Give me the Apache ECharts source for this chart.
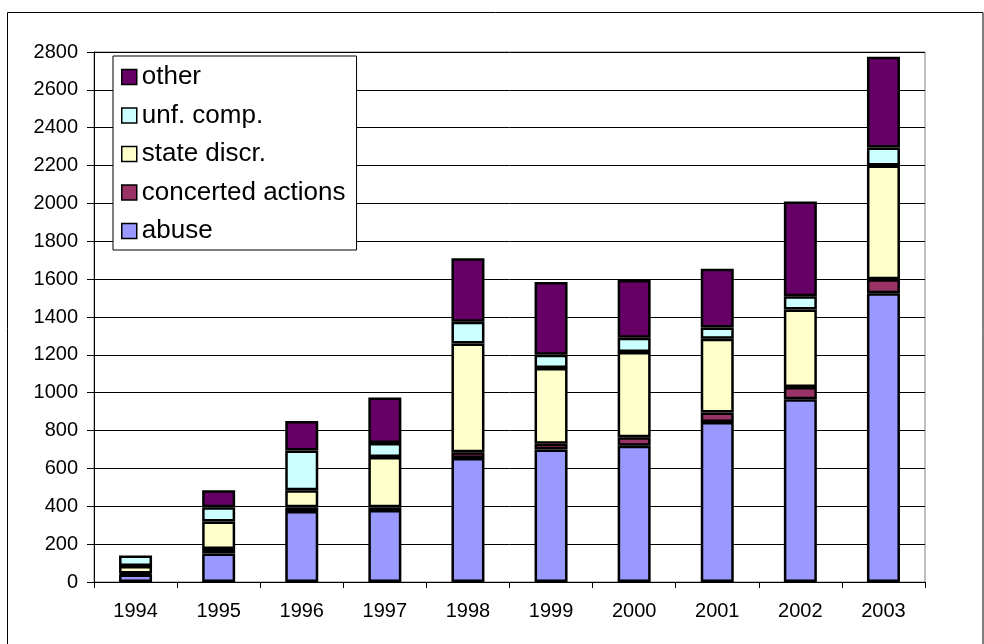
<!DOCTYPE html>
<html>
<head>
<meta charset="utf-8">
<script src="https://cdn.jsdelivr.net/npm/echarts@6/dist/echarts.min.js"></script>
<style>
html,body{margin:0;padding:0;background:#fff;}
#c{width:984px;height:644px;}
</style>
</head>
<body>
<div id="c"></div>
<script>
const years = ['1994','1995','1996','1997','1998','1999','2000','2001','2002','2003'];
const abuse = [40, 150, 375, 380, 655, 700, 720, 845, 965, 1525];
const concerted = [5, 25, 20, 15, 30, 30, 45, 50, 65, 75];
const stateDiscr = [40, 145, 90, 265, 575, 400, 450, 390, 410, 600];
const unfComp = [55, 75, 210, 75, 115, 70, 75, 60, 70, 95];
const other = [0, 90, 155, 240, 335, 385, 305, 310, 500, 480];
const yTicks = {min: 0, max: 2800, step: 200};

const seriesDefs = [
  {name: 'abuse', data: abuse, color: '#9999FF'},
  {name: 'concerted actions', data: concerted, color: '#993366'},
  {name: 'state discr.', data: stateDiscr, color: '#FFFFCC'},
  {name: 'unf. comp.', data: unfComp, color: '#CCFFFF'},
  {name: 'other', data: other, color: '#660066'}
];

const FONT = '"Liberation Sans", Arial, sans-serif';
const chart = echarts.init(document.getElementById('c'), null, {renderer: 'canvas'});
chart.setOption({
  animation: false,
  backgroundColor: '#fff',
  textStyle: {fontFamily: FONT, color: '#000'},
  grid: {left: 94, right: 59, top: 52, bottom: 62, show: true, borderColor: '#808080', borderWidth: 1},
  legend: {
    orient: 'vertical',
    left: 113, top: 56,
    data: ['other', 'unf. comp.', 'state discr.', 'concerted actions', 'abuse'],
    backgroundColor: '#fff',
    borderColor: '#000', borderWidth: 1,
    padding: [8, 11, 6, 8],
    itemWidth: 15, itemHeight: 15,
    itemGap: 12.5,
    icon: 'rect',
    itemStyle: {borderColor: '#000', borderWidth: 1.5},
    textStyle: {fontFamily: FONT, fontSize: 26, color: '#000', lineHeight: 26}
  },
  xAxis: {
    type: 'category',
    data: years,
    axisLine: {lineStyle: {color: '#000', width: 1}},
    axisTick: {show: true, length: 6, lineStyle: {color: '#000'}},
    axisLabel: {fontFamily: FONT, fontSize: 20, color: '#000', margin: 19}
  },
  yAxis: {
    type: 'value',
    min: yTicks.min, max: yTicks.max, interval: yTicks.step,
    axisLine: {show: true, lineStyle: {color: '#000', width: 1}},
    axisTick: {show: true, length: 7, lineStyle: {color: '#000'}},
    axisLabel: {fontFamily: FONT, fontSize: 20, color: '#000', margin: 16, formatter: v => String(v)},
    splitLine: {show: true, lineStyle: {color: '#000', width: 1}}
  },
  series: seriesDefs.map(s => ({
    name: s.name,
    type: 'bar',
    stack: 'total',
    barWidth: 33,
    data: s.data.map(v => (v === 0 ? null : v)),
    itemStyle: {color: s.color, borderColor: '#000', borderWidth: 2.5}
  })),
  graphic: [{
    type: 'rect',
    silent: true,
    z: 100,
    shape: {x: 7.5, y: 12.5, width: 975.5, height: 640},
    style: {fill: 'none', stroke: '#000', lineWidth: 1}
  }]
});
</script>
</body>
</html>
